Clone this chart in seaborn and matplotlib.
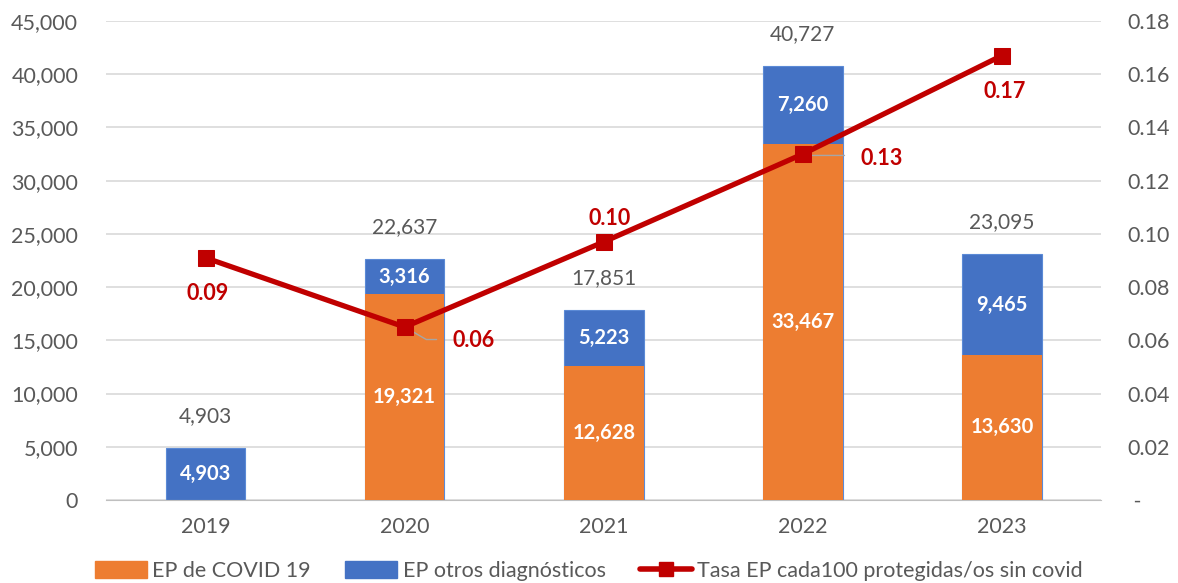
import numpy as np
import pandas as pd
import seaborn as sns
import matplotlib.pyplot as plt
from matplotlib.patches import Patch
from matplotlib.lines import Line2D

years = ["2019", "2020", "2021", "2022", "2023"]
ep_covid = [0, 19321, 12628, 33467, 13630]
ep_otros = [4903, 3316, 5223, 7260, 9465]
tasa = [0.091, 0.065, 0.097, 0.130, 0.167]
tasa_labels = ["0.09", "0.06", "0.10", "0.13", "0.17"]

totals = [c + o for c, o in zip(ep_covid, ep_otros)]
df = pd.DataFrame({"year": years, "covid": ep_covid, "otros": ep_otros,
                   "total": totals, "tasa": tasa})

orange = "#ED7D31"
blue = "#4472C4"
red = "#C00000"
gray = "#595959"

sns.set_style("white")
plt.rcParams["font.family"] = ["Lato", "DejaVu Sans"]

fig = plt.figure(figsize=(11.78, 5.83), dpi=100)
ax = fig.add_axes([0.090, 0.1424, 0.845, 0.8216])

# stacked bars: full total in blue, covid part drawn over it in orange
sns.barplot(data=df, x="year", y="total", color=blue, width=0.4, saturation=1,
            edgecolor="#5B8AD6", linewidth=0.8, ax=ax, zorder=2)
sns.barplot(data=df, x="year", y="covid", color=orange, width=0.4, saturation=1,
            linewidth=0, ax=ax, zorder=3)

ax.set_ylim(0, 45000)
ax.set_yticks(np.arange(0, 45001, 5000))
ax.yaxis.set_major_formatter(plt.FuncFormatter(lambda v, p: f"{int(v):,}"))
ax.set_xlim(-0.5, 4.5)
ax.set_xlabel("")
ax.set_ylabel("")
ax.grid(axis="y", color="#D9D9D9", linewidth=1.2, zorder=0)
ax.set_axisbelow(True)
for s in ["left", "right", "top"]:
    ax.spines[s].set_visible(False)
ax.spines["bottom"].set_color("#BFBFBF")
ax.tick_params(axis="both", length=0, labelsize=15.5, labelcolor=gray, pad=20)
ax.tick_params(axis="x", pad=12)

for i in range(len(years)):
    ax.text(i, totals[i] + 3000, f"{totals[i]:,}", ha="center", va="center",
            fontsize=15, color=gray)
    if ep_covid[i] > 0:
        ax.text(i, ep_covid[i] / 2, f"{ep_covid[i]:,}", ha="center", va="center",
                fontsize=14.5, color="white", fontweight="bold", zorder=5)
    ax.text(i, ep_covid[i] + ep_otros[i] / 2, f"{ep_otros[i]:,}", ha="center",
            va="center", fontsize=14.5, color="white", fontweight="bold", zorder=5)

ax2 = ax.twinx()
sns.lineplot(x=np.arange(len(years)), y=df["tasa"], color=red, linewidth=3.8,
             marker="s", markersize=11, markeredgecolor=red, ax=ax2, zorder=6)
ax2.set_ylim(0, 0.18)
ax2.set_yticks(np.arange(0, 0.181, 0.02))
ax2.yaxis.set_major_formatter(plt.FuncFormatter(lambda v, p: " -" if v < 1e-9 else f"{v:.2f}"))
ax2.set_ylabel("")
for s in ax2.spines.values():
    s.set_visible(False)
ax2.tick_params(axis="y", length=0, labelsize=15.5, labelcolor=gray, pad=19)
for lbl in ax2.get_yticklabels():
    lbl.set_horizontalalignment("left")

# line labels (offsets in points)
offsets = [(1.5, -26), (50, -10), (4, 17), (57, -3), (2, -26)]
for i, (dx, dy) in enumerate(offsets):
    ax2.annotate(tasa_labels[i], (i, tasa[i]), xytext=(dx, dy), textcoords="offset points",
                 ha="center", va="center", fontsize=15.5, fontweight="bold", color=red)
# leader lines for 0.06 and 0.13
for i, ex, ey in [(1, 25, -9), (3, 32, -1)]:
    ax2.annotate("", (i, tasa[i]), xytext=(ex, ey), textcoords="offset points",
                 arrowprops=dict(arrowstyle="-", color="#A6A6A6", lw=1,
                                 connectionstyle="angle,angleA=0,angleB=-30,rad=0"),
                 zorder=5)

handles = [Patch(color=orange, label="EP de COVID 19"),
           Patch(color=blue, label="EP otros diagnósticos"),
           Line2D([], [], color=red, lw=4, marker="s", markersize=10,
                  label="Tasa EP cada100 protegidas/os sin covid")]
fig.legend(handles=handles, loc="lower center", ncol=3, frameon=False,
           bbox_to_anchor=(0.5, -0.03), fontsize=15.5, labelcolor=gray,
           handlelength=2.4, handleheight=0.8, handletextpad=0.25, columnspacing=1.6)

fig.savefig("out.png", dpi=100)
